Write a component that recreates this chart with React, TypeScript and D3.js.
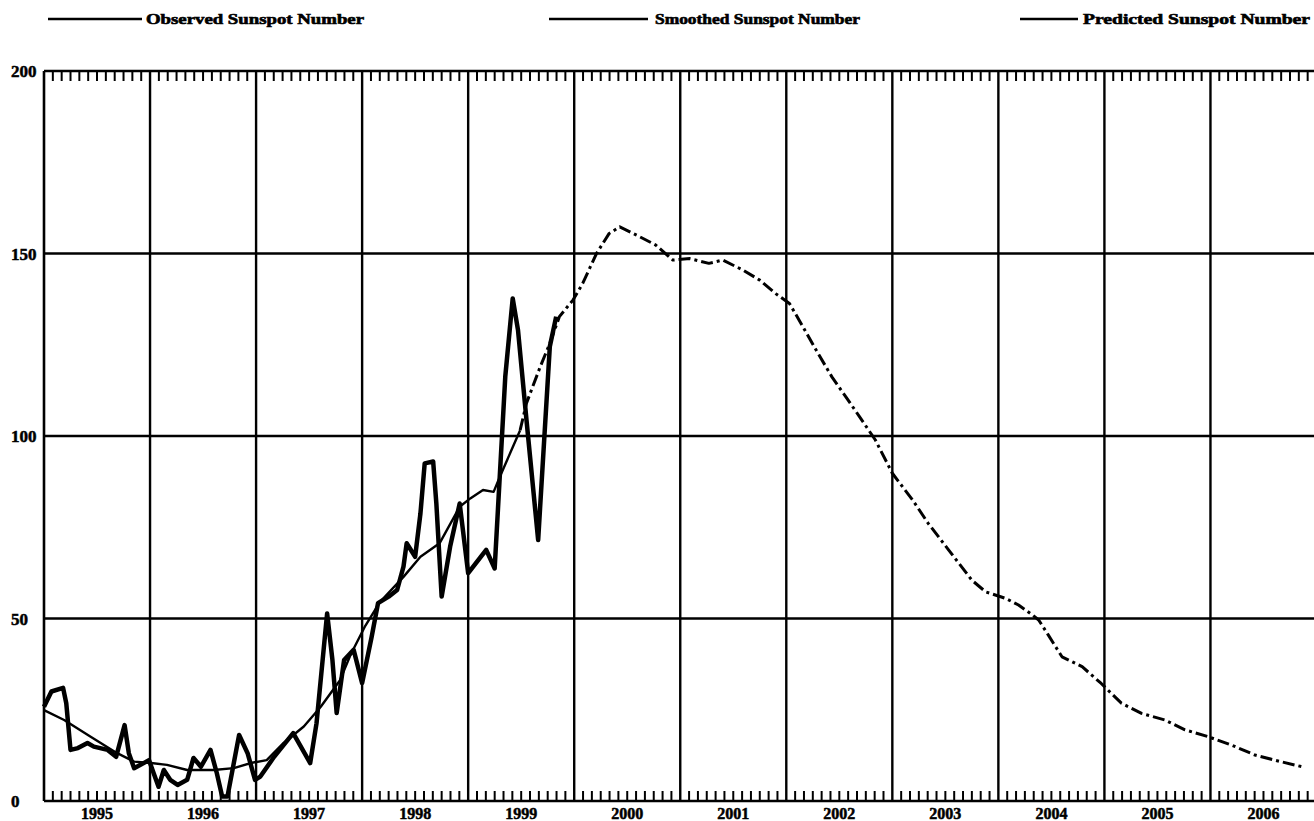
import React from "react";
import * as d3 from "d3";

// Observed monthly sunspot number (decimal year, value)
const observedYears = [
  1995.0, 1995.07, 1995.18, 1995.21, 1995.25, 1995.32, 1995.41, 1995.47, 1995.6, 1995.68,
  1995.76, 1995.8, 1995.85, 1995.91, 1995.99, 1996.08, 1996.13, 1996.19, 1996.26, 1996.35,
  1996.41, 1996.48, 1996.57, 1996.63, 1996.68, 1996.73, 1996.84, 1996.92, 1996.99, 1997.04,
  1997.17, 1997.35, 1997.51, 1997.57, 1997.67, 1997.72, 1997.76, 1997.83, 1997.92, 1998.0,
  1998.09, 1998.15, 1998.25, 1998.33, 1998.39, 1998.42, 1998.5, 1998.55, 1998.59, 1998.67,
  1998.7, 1998.75, 1998.83, 1998.92, 1999.0, 1999.17, 1999.25, 1999.35, 1999.42, 1999.47,
  1999.55, 1999.66, 1999.77, 1999.83,
];
const observedValues = [
  25.8, 30, 31, 26.8, 14, 14.5, 15.9, 14.9, 14, 12.1,
  20.8, 13.1, 9, 9.9, 11.2, 3.9, 8.5, 5.8, 4.4, 5.8,
  11.8, 9.4, 14, 7.6, 1.2, 1.2, 18.1, 13.1, 5.8, 6.7,
  12.1, 18.6, 10.4, 21.3, 51.4, 38.6, 24.1, 38.6, 41.4, 32.3,
  45, 54.2, 56, 57.8, 64.2, 70.6, 66.9, 78.8, 92.5, 93,
  81.5, 56, 69.7, 81.5, 62.4, 68.8, 63.7, 116.3, 137.7, 129,
  104.4, 71.5, 124.5, 132.7,
];

// Smoothed sunspot number
const smoothedYears = [
  1995.0, 1995.19, 1995.44, 1995.69, 1995.85, 1996.01, 1996.16, 1996.35, 1996.6, 1996.79,
  1996.95, 1997.1, 1997.26, 1997.45, 1997.61, 1997.79, 1997.89, 1998.03, 1998.17, 1998.39,
  1998.55, 1998.73, 1998.92, 1999.02, 1999.14, 1999.24, 1999.3, 1999.49,
];
const smoothedValues = [
  24.9, 22.2, 17.6, 13.1, 10.8, 10.4, 9.9, 8.5, 8.5, 9,
  10.4, 11.2, 15.9, 20.4, 25.8, 33, 40, 48, 54.6, 61.4,
  66.9, 70.6, 80.6, 82.9, 85.2, 84.7, 88.9, 101.6,
];

// Predicted sunspot number
const predictedYears = [
  1999.49, 1999.55, 1999.68, 1999.77, 1999.86, 1999.99, 2000.08, 2000.21, 2000.33, 2000.43,
  2000.59, 2000.77, 2000.93, 2001.09, 2001.27, 2001.4, 2001.59, 2001.75, 2001.9, 2002.03,
  2002.12, 2002.28, 2002.43, 2002.56, 2002.69, 2002.84, 2003.0, 2003.19, 2003.34, 2003.53,
  2003.75, 2003.88, 2004.07, 2004.19, 2004.32, 2004.38, 2004.47, 2004.6, 2004.79, 2004.97,
  2005.16, 2005.35, 2005.57, 2005.76, 2005.98, 2006.2, 2006.42, 2006.66, 2006.89,
];
const predictedValues = [
  101.6, 109, 119, 125.4, 132.7, 137.3, 141.8, 150, 155.5, 157.3,
  155, 152.3, 148.2, 148.6, 147.3, 148.2, 145.5, 142.7, 139, 136.3,
  131.8, 123.6, 116.2, 110.8, 105.3, 98.9, 89.8, 82.5, 76, 68.8,
  60.5, 57.3, 55.5, 53.7, 51, 49.6, 45.5, 39.5, 36.8, 32.2,
  26.8, 24, 22.2, 19.5, 17.6, 15.3, 12.6, 10.8, 9.2,
];

const yTicks = [0, 50, 100, 150, 200];
const yearLabels = ["1995", "1996", "1997", "1998", "1999", "2000", "2001", "2002", "2003", "2004", "2005", "2006"];
const legendLabels = ["Observed Sunspot Number", "Smoothed Sunspot Number", "Predicted Sunspot Number"];

const W = 1314;
const H = 821;
const FONT = "'Liberation Serif', 'DejaVu Serif', serif";

export default function App() {
  const x = d3.scaleLinear().domain([1995, 2007]).range([44, 1316.5]);
  const y = d3.scaleLinear().domain([0, 200]).range([801, 71]);
  const line = d3
    .line<[number, number]>()
    .x((d) => x(d[0]))
    .y((d) => y(d[1]))
    .curve(d3.curveLinear);

  const obs = observedYears.map((t, i) => [t, observedValues[i]] as [number, number]);
  const smo = smoothedYears.map((t, i) => [t, smoothedValues[i]] as [number, number]);
  const pre = predictedYears.map((t, i) => [t, predictedValues[i]] as [number, number]);

  const [x0, x1] = x.range();
  const [yb, yt] = y.range();
  const months = d3.range(0, 12 * 12 + 1).filter((i) => i % 12 !== 0).map((i) => 1995 + i / 12);
  const years = d3.range(1996, 2008);

  const legendItems = [
    { l0: 48, l1: 142, tx: 146, tl: 218 },
    { l0: 549, l1: 648, tx: 655, tl: 205 },
    { l0: 1020, l1: 1078, tx: 1083, tl: 227 },
  ];

  return (
    <div style={{ position: "absolute", left: 0, top: 0, width: W, height: H, background: "#fff" }}>
      <svg width={W} height={H} style={{ display: "block" }} fontFamily={FONT}>
        <rect x={0} y={0} width={W} height={H} fill="#fff" />

        {/* legend */}
        {legendLabels.map((lab, i) => (
          <g key={lab}>
            <line x1={legendItems[i].l0} x2={legendItems[i].l1} y1={19} y2={19} stroke="#000" strokeWidth={2.4} />
            <text
              x={legendItems[i].tx}
              y={24}
              fontSize={14}
              fontWeight="bold"
              textLength={legendItems[i].tl}
              lengthAdjust="spacingAndGlyphs"
              fill="#000"
              stroke="#000"
              strokeWidth={0.6}
            >
              {lab}
            </text>
          </g>
        ))}

        {/* horizontal grid */}
        {yTicks.map((v) => (
          <line key={"h" + v} x1={x0} x2={x1} y1={y(v)} y2={y(v)} stroke="#000" strokeWidth={2.4} />
        ))}
        {/* vertical grid at year boundaries */}
        {years.map((t) => (
          <line key={"v" + t} x1={x(t)} x2={x(t)} y1={yt} y2={yb} stroke="#000" strokeWidth={2.4} />
        ))}
        {/* frame left */}
        <line x1={x0} x2={x0} y1={yt} y2={yb} stroke="#000" strokeWidth={2.6} />

        {/* monthly ticks */}
        {months.map((t) => (
          <g key={"m" + t}>
            <line x1={x(t)} x2={x(t)} y1={yt} y2={yt + 10} stroke="#000" strokeWidth={2} />
            <line x1={x(t)} x2={x(t)} y1={yb} y2={yb - 10} stroke="#000" strokeWidth={2} />
          </g>
        ))}

        {/* y labels */}
        {yTicks.map((v) => (
          <text key={"yl" + v} x={11} y={y(v) + 6} fontSize={17} fontWeight="bold" fill="#000" stroke="#000" strokeWidth={0.5}>
            {v}
          </text>
        ))}

        {/* year labels */}
        {yearLabels.map((lab) => {
          const t = +lab + 0.5;
          return (
            <text key={lab} x={x(t)} y={819} fontSize={16} fontWeight="bold" textAnchor="middle" fill="#000" stroke="#000" strokeWidth={0.5}>
              {lab}
            </text>
          );
        })}

        {/* data */}
        <path d={line(smo) || ""} fill="none" stroke="#000" strokeWidth={2.4} strokeLinejoin="round" />
        <path
          d={line(pre) || ""}
          fill="none"
          stroke="#000"
          strokeWidth={3}
          strokeDasharray="12,4,3,4"
          strokeLinejoin="round"
        />
        <path d={line(obs) || ""} fill="none" stroke="#000" strokeWidth={4.5} strokeLinejoin="round" />
      </svg>
    </div>
  );
}
